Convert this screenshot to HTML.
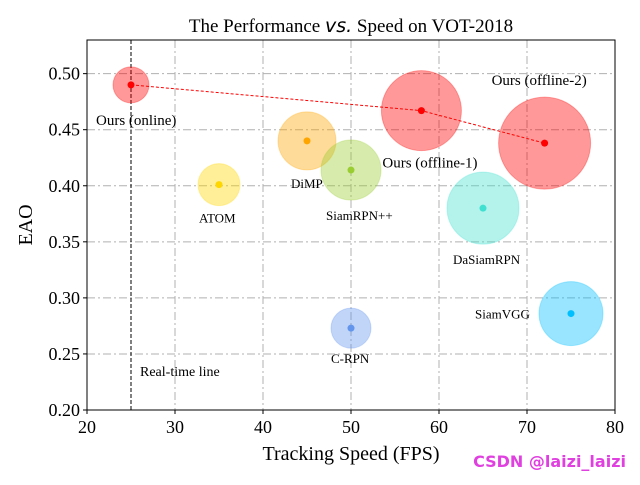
<!DOCTYPE html>
<html><head><meta charset="utf-8"><style>
body{margin:0;background:#fff}
text{font-family:"Liberation Serif",serif}
</style></head><body>
<svg id="c" width="640" height="480" xmlns="http://www.w3.org/2000/svg"></svg>
<script>
const names=["Ours (online)","Ours (offline-1)","Ours (offline-2)","DiMP","SiamRPN++","ATOM","DaSiamRPN","SiamVGG","C-RPN"];
const fps=[25,58,72,45,50,35,65,75,50];
const eao=[0.490,0.467,0.438,0.440,0.414,0.401,0.380,0.286,0.273];
const sizes=[18,40,46,29,30,21,36,32,20];
const colors=["#ff0000","#ff0000","#ff0000","#ffa500","#9acd32","#ffd700","#40e0d0","#00bfff","#6495ed"];
const labelOff=[[-35,40],[-39,57],[-53,-58],[-16,47],[-25,50],[-20,38],[-30,56],[-96,5],[-20,35]];
const xTicks=[20,30,40,50,60,70,80];
const yTicks=[0.20,0.25,0.30,0.35,0.40,0.45,0.50];
const L=87,R=615,T=40,B=410;
const x=v=>L+(v-20)/60*(R-L);
const y=v=>B-(v-0.2)/0.33*(B-T);
const s=document.getElementById('c');
function add(tag,attrs,txt){const e=document.createElementNS("http://www.w3.org/2000/svg",tag);for(const k in attrs)e.setAttribute(k,attrs[k]);if(txt!==undefined)e.textContent=txt;s.appendChild(e);return e;}
xTicks.forEach(t=>{const g=add('line',{x1:x(t),x2:x(t),y1:T,y2:B,stroke:'#b0b0b0','stroke-dasharray':'8,3,2,3'});
add('line',{x1:x(t),x2:x(t),y1:B,y2:B+4,stroke:'#000'});
const l=add('text',{x:x(t),y:B+23,'font-size':18,'text-anchor':'middle'},t);});
yTicks.forEach(t=>{const g=add('line',{x1:L,x2:R,y1:y(t),y2:y(t),stroke:'#b0b0b0','stroke-dasharray':'8,3,2,3'});
add('line',{x1:L-4,x2:L,y1:y(t),y2:y(t),stroke:'#000'});
const l=add('text',{x:L-7,y:y(t)+6,'font-size':18,'text-anchor':'end'},t.toFixed(2));});
const rl=add('line',{x1:x(25),x2:x(25),y1:T,y2:B,stroke:'#000','stroke-dasharray':'4,2'});

const rt=add('text',{x:140,y:376,'font-size':14},'Real-time line');

names.forEach((n,i)=>{const c=add('circle',{cx:x(fps[i]),cy:y(eao[i]),r:sizes[i],fill:colors[i],'fill-opacity':0.4,stroke:colors[i],'stroke-opacity':0.3});
});
const pl=add('polyline',{points:[0,1,2].map(i=>x(fps[i])+','+y(eao[i])).join(' '),fill:'none',stroke:'#ff0000','stroke-dasharray':'3,2'});

names.forEach((n,i)=>{const d=add('circle',{cx:x(fps[i]),cy:y(eao[i]),r:3.5,fill:colors[i]});

const big=i<3;const t=add('text',{x:x(fps[i])+labelOff[i][0],y:y(eao[i])+labelOff[i][1],'font-size':big?15:13},n);
});
const ax=add('rect',{x:L,y:T,width:R-L,height:B-T,fill:'none',stroke:'#000'});

const ti=add('text',{x:351,y:32,'font-size':19,'text-anchor':'middle'});

ti.innerHTML='The Performance <tspan font-style="italic" font-family="DejaVu Sans">vs.</tspan> Speed on VOT-2018';
const xt=add('text',{x:351,y:460,'font-size':20,'text-anchor':'middle'},'Tracking Speed (FPS)');

const yt=add('text',{x:0,y:0,'font-size':20,'text-anchor':'middle',transform:'translate(32,225) rotate(-90)'},'EAO');

const wm=add('text',{x:626,y:467,'font-size':16,'text-anchor':'end',fill:'#e040e0','font-weight':'bold',style:'font-family:"DejaVu Sans",sans-serif'},'CSDN @laizi_laizi');

</script>
</body></html>
